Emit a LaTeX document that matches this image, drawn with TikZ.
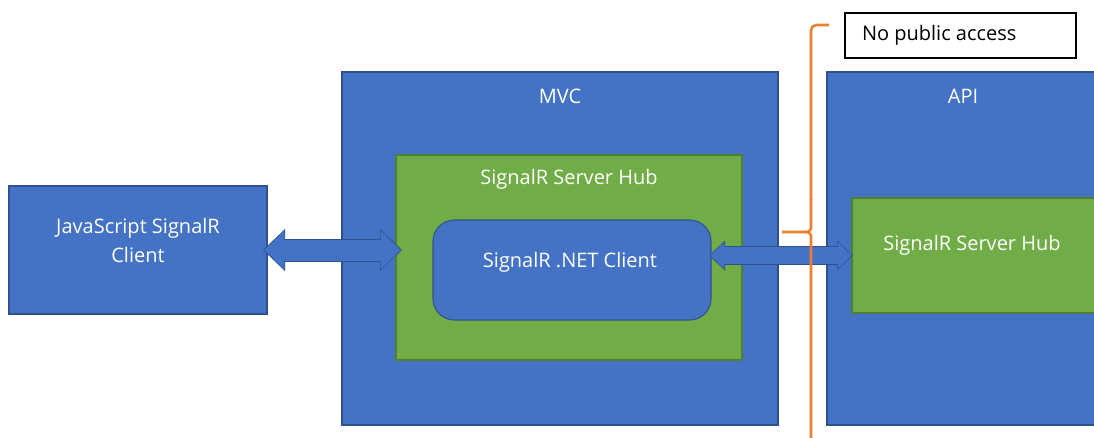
\documentclass[tikz,border=0pt]{standalone}
\usepackage{fontspec}
\setmainfont{Open Sans}
\usetikzlibrary{arrows.meta}
\definecolor{boxblue}{HTML}{4472C4}
\definecolor{edgeblue}{HTML}{2F528F}
\definecolor{boxgreen}{HTML}{70AD47}
\definecolor{edgegreen}{HTML}{507E32}
\definecolor{braceorange}{HTML}{ED7D31}

\begin{document}
\begin{tikzpicture}[x=0.75pt,y=-0.75pt,
  every node/.style={inner sep=0pt,outer sep=0pt,font=\fontsize{15}{21.75}\selectfont},
  bluebox/.style={draw=edgeblue,fill=boxblue,line width=0.8pt},
  greenbox/.style={draw=edgegreen,fill=boxgreen,line width=0.8pt},
  txt/.style={text=white,align=center},
  wideout/.style={line width=17.25pt,draw=edgeblue,
    {Triangle[length=16.5pt,width=31.5pt,line width=0pt]}-{Triangle[length=16.5pt,width=31.5pt,line width=0pt]}},
  widein/.style={line width=15.75pt,draw=boxblue,shorten <=1pt,shorten >=1pt,
    {Triangle[length=15pt,width=29.25pt,line width=0pt]}-{Triangle[length=15pt,width=29.25pt,line width=0pt]}},
  narrowout/.style={line width=14.25pt,draw=edgeblue,
    {Triangle[length=12pt,width=22.5pt,line width=0pt]}-{Triangle[length=12pt,width=22.5pt,line width=0pt]}},
  narrowin/.style={line width=12.75pt,draw=boxblue,shorten <=1pt,shorten >=1pt,
    {Triangle[length=10.5pt,width=20.25pt,line width=0pt]}-{Triangle[length=10.5pt,width=20.25pt,line width=0pt]}},
  brace/.style={draw=braceorange,line width=1.9pt}]
  \useasboundingbox (0,0) rectangle (1094,437);

  \node (js)[bluebox,minimum width=193.5pt,minimum height=96pt] at (138,250) {};
  \node (mvc)[bluebox,minimum width=327pt,minimum height=264.75pt] at (560,248.5) {};
  \node (hub)[greenbox,minimum width=259.5pt,minimum height=153.75pt] at (569,257.5) {};
  \node (net)[bluebox,rounded corners=16pt,minimum width=208.5pt,minimum height=75pt] at (572,270) {};
  \node (api)[bluebox,minimum width=212.25pt,minimum height=264.75pt] at (968.5,248.5) {};
  \node (apihub)[greenbox,minimum width=193.5pt,minimum height=86.25pt] at (981,255.5) {};
  \node (note)[draw=black,fill=white,line width=1pt,minimum width=173.25pt,minimum height=33.75pt] at (960.5,35.5) {};

  \node (jstxt)[txt] at (138,240) {JavaScript SignalR\\Client};
  \node (mvctxt)[txt] at (560,96) {MVC};
  \node (hubtxt)[txt] at (569,179) {SignalR Server Hub};
  \node (nettxt)[txt] at (570,262) {SignalR .NET Client};
  \node (apitxt)[txt] at (963,96) {API};
  \node (apihubtxt)[txt] at (972,245) {SignalR Server Hub};
  \node (notetxt)[anchor=west] at (862,35) {No public access};

  \draw[wideout] ([xshift=-3pt]js.east) -- ([xshift=4.5pt]js.east -| hub.west);
  \draw[widein] ([xshift=-3pt]js.east) -- ([xshift=4.5pt]js.east -| hub.west);
  \draw[narrowout] ([xshift=-1.5pt]apihub.west -| net.east) -- ([xshift=0.75pt]apihub.west);
  \draw[narrowin] ([xshift=-1.5pt]apihub.west -| net.east) -- ([xshift=0.75pt]apihub.west);

  \draw[brace,rounded corners=4pt] (829,25) -- (811,25) -- (811,200);
  \draw[brace] (811,199) -- (811,227) .. controls (811,231) and (809,232) .. (804,232) -- (782,232);
  \draw[brace] (804,232) .. controls (809,232) and (811,233) .. (811,237) -- (811,445);
\end{tikzpicture}
\end{document}
